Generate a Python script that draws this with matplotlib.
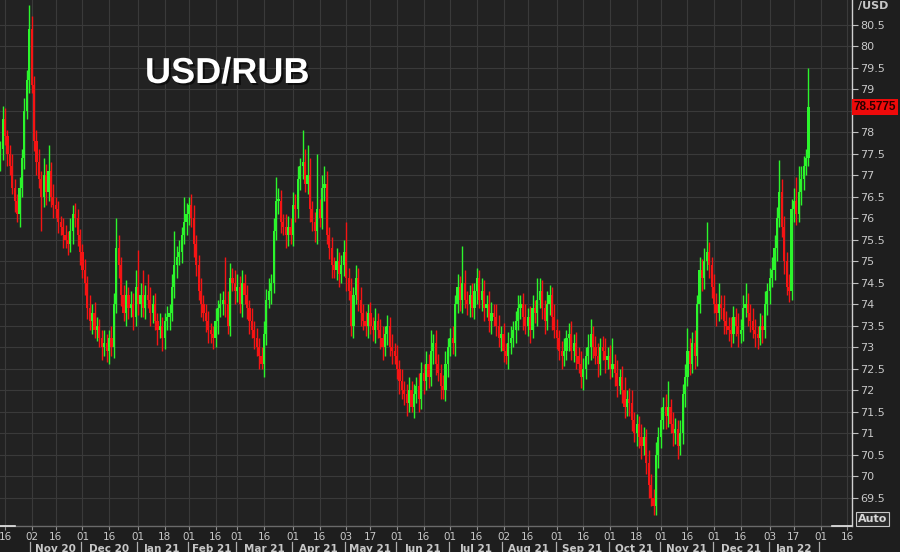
import numpy as np
import pandas as pd
import matplotlib
matplotlib.use("Agg")
import matplotlib.pyplot as plt
import matplotlib.transforms as mtransforms
import matplotlib.patheffects as pe
from matplotlib.lines import Line2D

# ---------------- data (daily USD/RUB candles, business days from 2020-10-14) ----------------
start_date = "2020-10-14"

closes = [
    77.6, 78.3, 77.9, 77.5, 77.2, 76.7, 76.4, 76.1, 76.7, 77.4, 78.5, 79.2, 80.4,
    79.1, 77.8, 77.3, 76.9, 76.5, 77.0, 76.6, 77.1, 76.5, 76.3, 76.2,
    75.9, 75.8, 75.6, 75.5, 75.4, 75.7, 76.1, 76.0, 75.6, 75.2,
    74.8, 74.5, 73.9, 73.6, 73.8, 73.4, 73.5, 73.2, 73.0, 73.1, 72.9,
    73.2, 73.0, 74.0, 75.3, 74.9, 74.2, 73.8, 74.2, 73.9, 74.0, 73.7, 74.4,
    74.0, 74.2, 73.9, 74.2, 74.1, 73.8, 74.0, 73.6, 73.4, 73.5, 73.2,
    73.6, 73.7, 73.8, 74.4, 74.9, 75.1, 75.2, 75.6, 75.9, 76.1,
    76.3,
    76.0, 75.4, 74.9, 74.3, 74.0, 73.8, 73.6, 73.4, 73.3, 73.2,
    73.6, 73.9, 74.0, 74.1, 74.0, 73.5, 74.6, 74.5, 74.3,
    74.4, 74.0, 74.5, 74.2, 73.9, 73.6, 73.4, 73.2, 73.0, 72.8, 72.6,
    73.3, 74.1, 74.3, 74.5, 75.7, 76.4, 76.4, 75.9, 75.8, 75.6, 75.8, 75.6,
    76.3, 76.2, 76.9, 77.2, 77.3, 76.8, 77.0, 76.2, 75.9, 75.7, 76.2,
    76.0, 76.7, 76.8, 75.6, 75.3, 74.9, 74.8, 75.0, 74.7, 74.9, 75.2,
    74.6, 74.3, 73.5, 74.2, 74.6, 74.1, 73.8, 73.6, 73.5, 73.8,
    73.5, 73.4, 73.6, 73.4, 73.2, 73.0, 73.3, 73.5, 73.0, 72.9, 72.8,
    72.5, 72.2, 72.0, 71.9, 71.7, 72.0, 71.6, 71.9, 72.1, 71.8, 72.4,
    72.2, 72.6, 72.3, 72.9, 73.1, 72.6, 72.4, 72.1, 72.0, 72.6, 73.0,
    73.2, 73.1, 74.0, 74.4, 74.1, 74.5, 74.1, 74.0, 74.2, 73.9, 74.3,
    74.6, 74.1, 74.3, 73.9, 74.0, 73.6, 73.8, 73.7, 73.5, 73.2, 73.3, 72.9,
    72.8, 73.1, 73.2, 73.4, 73.6, 73.9, 74.0, 73.7, 73.5, 73.7,
    73.4, 73.9, 73.8, 74.1, 74.3, 73.9, 73.6, 74.0, 74.2, 73.7, 73.4, 73.2,
    72.9, 72.8, 72.9, 73.2, 73.3, 72.9, 73.1, 72.8, 72.6, 72.3, 72.5,
    72.8, 73.0, 73.3, 73.0, 72.8, 72.6, 73.0, 72.9, 72.7, 72.8, 72.5,
    72.6, 72.4, 72.1, 72.3, 72.0, 71.6, 71.8, 71.7, 71.3, 71.0, 71.2,
    70.9, 70.7, 70.9, 70.3, 69.8, 69.5, 69.3, 70.5, 70.9, 71.3,
    71.6, 71.4, 71.6, 71.2, 71.0, 71.1, 70.7, 71.0, 71.9, 72.3, 72.9,
    72.6, 73.1, 72.8, 74.0, 74.8, 74.6, 75.0, 75.2, 74.9, 74.4, 74.0,
    73.8, 74.0, 73.9, 73.6, 73.5, 73.4, 73.3, 73.7, 73.5, 73.3, 73.4,
    73.9, 74.0, 73.8, 73.6, 73.4, 73.3, 73.2, 73.5, 73.4, 74.0, 74.3, 74.6, 74.8,
    75.3, 76.0, 76.6, 75.8, 75.0, 74.4, 74.3, 76.2, 76.4, 76.1, 76.6, 76.9, 77.2, 77.4, 78.5775,
]

opens = [
    77.3, 77.6, 78.3, 77.9, 77.5, 77.2, 76.7, 76.4, 76.1, 76.7, 77.4, 78.5, 79.2,
    80.4, 79.1, 77.8, 77.3, 76.9, 76.5, 77.0, 76.6, 77.1, 76.5, 76.3,
    76.2, 75.9, 75.8, 75.6, 75.5, 75.4, 75.7, 76.1, 76.0, 75.6,
    75.2, 74.8, 74.5, 73.9, 73.6, 73.8, 73.4, 73.5, 73.2, 73.0, 73.1,
    72.9, 73.2, 73.0, 74.0, 75.3, 74.9, 74.2, 73.8, 74.2, 73.9, 74.0, 73.7,
    74.4, 74.0, 74.2, 73.9, 74.2, 74.1, 73.8, 74.0, 73.6, 73.4, 73.5,
    73.2, 73.6, 73.7, 73.8, 74.4, 74.9, 75.1, 75.2, 75.6, 75.9,
    76.1,
    76.3, 76.0, 75.4, 74.9, 74.3, 74.0, 73.8, 73.6, 73.4, 73.3,
    73.2, 73.6, 73.9, 74.0, 74.1, 74.0, 73.5, 74.6, 74.5,
    74.3, 74.4, 74.0, 74.5, 74.2, 73.9, 73.6, 73.4, 73.2, 73.0, 72.8,
    72.6, 73.3, 74.1, 74.3, 74.5, 75.7, 76.4, 76.4, 75.9, 75.8, 75.6, 75.8,
    75.6, 76.3, 76.2, 76.9, 77.2, 77.3, 76.8, 77.0, 76.2, 75.9, 75.7,
    76.2, 76.0, 76.7, 76.8, 75.6, 75.3, 74.9, 74.8, 75.0, 74.7, 74.9,
    75.2, 74.6, 74.3, 73.5, 74.2, 74.6, 74.1, 73.8, 73.6, 73.5,
    73.8, 73.5, 73.4, 73.6, 73.4, 73.2, 73.0, 73.3, 73.5, 73.0, 72.9,
    72.8, 72.5, 72.2, 72.0, 71.9, 71.7, 72.0, 71.6, 71.9, 72.1, 71.8,
    72.4, 72.2, 72.6, 72.3, 72.9, 73.1, 72.6, 72.4, 72.1, 72.0, 72.6,
    73.0, 73.2, 73.1, 74.0, 74.4, 74.1, 74.5, 74.1, 74.0, 74.2, 73.9,
    74.3, 74.6, 74.1, 74.3, 73.9, 74.0, 73.6, 73.8, 73.7, 73.5, 73.2, 73.3,
    72.9, 72.8, 73.1, 73.2, 73.4, 73.6, 73.9, 74.0, 73.7, 73.5,
    73.7, 73.4, 73.9, 73.8, 74.1, 74.3, 73.9, 73.6, 74.0, 74.2, 73.7, 73.4,
    73.2, 72.9, 72.8, 72.9, 73.2, 73.3, 72.9, 73.1, 72.8, 72.6, 72.3,
    72.5, 72.8, 73.0, 73.3, 73.0, 72.8, 72.6, 73.0, 72.9, 72.7, 72.8,
    72.5, 72.6, 72.4, 72.1, 72.3, 72.0, 71.6, 71.8, 71.7, 71.3, 71.0,
    71.2, 70.9, 70.7, 70.9, 70.3, 69.8, 69.5, 69.3, 70.5, 70.9,
    71.3, 71.6, 71.4, 71.6, 71.2, 71.0, 71.1, 70.7, 71.0, 71.9, 72.3,
    72.9, 72.6, 73.1, 72.8, 74.0, 74.8, 74.6, 75.0, 75.2, 74.9, 74.4,
    74.0, 73.8, 74.0, 73.9, 73.6, 73.5, 73.4, 73.3, 73.7, 73.5, 73.3,
    73.4, 73.9, 74.0, 73.8, 73.6, 73.4, 73.3, 73.2, 73.5, 73.4, 74.0, 74.3, 74.6,
    74.8, 75.3, 76.0, 76.6, 75.8, 75.0, 74.4, 74.3, 76.2, 76.4, 76.1, 76.6, 76.9, 77.2, 77.4,
]

# wick length above the body top / below the body bottom (RUB)
upper_wick = [
    0.2, 0.3, 0.25, 0.15, 0.2, 0.3, 0.2, 0.15, 0.25, 0.2, 0.3, 0.25, 0.55,
    0.3, 0.2, 0.25, 0.3, 0.2, 0.4, 0.25, 0.6, 0.2, 0.3, 0.2,
    0.2, 0.15, 0.2, 0.25, 0.2, 0.3, 0.2, 0.25, 0.2, 0.15,
    0.2, 0.25, 0.15, 0.3, 0.2, 0.25, 0.2, 0.15, 0.2, 0.3, 0.2,
    0.2, 0.3, 0.25, 0.7, 0.3, 0.2, 0.25, 0.35, 0.2, 0.3, 0.25, 0.4,
    0.85, 0.3, 0.6, 0.25, 0.5, 0.3, 0.2, 0.25, 0.2, 0.3, 0.2,
    0.2, 0.25, 0.2, 0.3, 0.8, 0.25, 0.3, 0.2, 0.6, 0.25,
    0.2,
    0.25, 0.3, 0.2, 0.25, 0.3, 0.2, 0.2, 0.25, 0.15, 0.2,
    0.3, 0.2, 0.25, 0.2, 1.0, 0.3, 0.35, 0.25, 0.3,
    0.3, 0.25, 0.3, 0.2, 0.25, 0.2, 0.3, 0.2, 0.25, 0.2, 0.2,
    0.3, 0.25, 0.3, 0.2, 0.3, 0.55, 0.3, 0.25, 0.2, 0.3, 0.25, 0.2,
    0.3, 0.25, 0.3, 0.2, 0.75, 0.3, 0.7, 0.4, 0.2, 0.25, 1.3,
    0.25, 0.3, 0.4, 0.3, 0.2, 0.25, 0.2, 0.3, 0.2, 0.25, 0.3,
    0.7, 0.25, 0.3, 0.2, 0.3, 0.25, 0.3, 0.2, 0.25, 0.2,
    0.25, 0.2, 0.3, 0.2, 0.25, 0.3, 0.2, 0.25, 0.2, 0.3, 0.2,
    0.25, 0.2, 0.3, 0.2, 0.25, 0.3, 0.2, 0.25, 0.2, 0.3, 0.25,
    0.2, 0.3, 0.25, 0.5, 0.2, 0.3, 0.25, 0.2, 0.25, 0.3, 0.2,
    0.25, 0.3, 0.2, 0.3, 0.25, 0.85, 0.3, 0.2, 0.25, 0.3, 0.2,
    0.25, 0.2, 0.3, 0.25, 0.2, 0.3, 0.25, 0.2, 0.3, 0.25, 0.2, 0.25,
    0.2, 0.25, 0.3, 0.2, 0.25, 0.3, 0.2, 0.25, 0.3, 0.2,
    0.25, 0.3, 0.2, 0.5, 0.3, 0.25, 0.2, 0.3, 0.25, 0.2, 0.3, 0.25,
    0.2, 0.25, 0.3, 0.2, 0.25, 0.3, 0.2, 0.25, 0.2, 0.3, 0.25,
    0.2, 0.3, 0.35, 0.2, 0.25, 0.3, 0.2, 0.25, 0.3, 0.2, 0.25,
    0.6, 0.25, 0.3, 0.2, 0.25, 0.3, 0.2, 0.25, 0.3, 0.2, 0.25,
    0.2, 0.3, 0.25, 0.2, 0.3, 0.25, 0.2, 0.3, 0.25, 0.3,
    0.25, 0.3, 0.6, 0.2, 0.3, 0.25, 0.2, 0.3, 0.25, 0.3, 0.55,
    0.3, 0.25, 0.3, 0.2, 0.3, 0.25, 0.3, 0.7, 0.25, 0.2, 0.3,
    0.25, 0.5, 0.2, 0.3, 0.25, 0.2, 0.3, 0.25, 0.2, 0.3, 0.25,
    0.3, 0.5, 0.25, 0.2, 0.3, 0.25, 0.2, 0.3, 0.25, 0.3, 0.2, 0.25, 0.3,
    0.3, 0.25, 0.75, 0.3, 0.25, 0.2, 0.3, 0.25, 0.3, 0.55, 0.6, 0.3, 0.25, 0.2, 0.92,
]

lower_wick = [
    0.2, 0.25, 0.2, 0.3, 0.2, 0.15, 0.25, 0.2, 0.3, 0.2, 0.25, 0.2, 0.3,
    0.2, 0.25, 0.3, 0.2, 0.8, 0.25, 0.3, 0.2, 0.25, 0.3, 0.2,
    0.25, 0.2, 0.3, 0.2, 0.25, 0.2, 0.3, 0.2, 0.25, 0.3,
    0.2, 0.3, 0.25, 0.2, 0.3, 0.2, 0.25, 0.2, 0.3, 0.2, 0.25,
    0.3, 0.2, 0.25, 0.2, 0.3, 0.25, 0.2, 0.3, 0.25, 0.2, 0.3, 0.2,
    0.25, 0.3, 0.2, 0.25, 0.2, 0.3, 0.25, 0.2, 0.35, 0.2, 0.3,
    0.25, 0.2, 0.3, 0.2, 0.25, 0.3, 0.2, 0.25, 0.2, 0.3,
    0.25,
    0.2, 0.3, 0.25, 0.2, 0.3, 0.2, 0.25, 0.3, 0.2, 0.25,
    0.2, 0.3, 0.2, 0.25, 0.3, 0.2, 0.25, 0.2, 0.3,
    0.25, 0.2, 0.3, 0.2, 0.25, 0.3, 0.2, 0.25, 0.2, 0.3, 0.1,
    0.3, 0.25, 0.2, 0.3, 0.25, 0.2, 0.3, 0.25, 0.2, 0.3, 0.25, 0.2,
    0.25, 0.3, 0.2, 0.25, 0.3, 0.2, 0.25, 0.3, 0.2, 0.25, 0.3,
    0.2, 0.25, 0.3, 0.2, 0.25, 0.3, 0.2, 0.25, 0.3, 0.2, 0.25,
    0.3, 0.2, 0.25, 0.3, 0.2, 0.25, 0.3, 0.2, 0.25, 0.3,
    0.2, 0.25, 0.3, 0.2, 0.25, 0.3, 0.2, 0.25, 0.2, 0.3, 0.2,
    0.25, 0.3, 0.2, 0.25, 0.3, 0.2, 0.1, 0.25, 0.2, 0.3, 0.25,
    0.3, 0.2, 0.25, 0.2, 0.3, 0.25, 0.2, 0.3, 0.2, 0.25, 0.3,
    0.2, 0.25, 0.3, 0.2, 0.25, 0.3, 0.2, 0.25, 0.3, 0.2, 0.25,
    0.3, 0.2, 0.25, 0.3, 0.2, 0.25, 0.3, 0.2, 0.25, 0.2, 0.3, 0.25,
    0.2, 0.3, 0.25, 0.2, 0.3, 0.2, 0.25, 0.3, 0.2, 0.25,
    0.3, 0.2, 0.25, 0.3, 0.2, 0.25, 0.3, 0.2, 0.25, 0.3, 0.2, 0.25,
    0.2, 0.3, 0.25, 0.2, 0.3, 0.2, 0.25, 0.3, 0.2, 0.25, 0.3,
    0.25, 0.2, 0.3, 0.25, 0.2, 0.3, 0.25, 0.2, 0.3, 0.2, 0.25,
    0.2, 0.3, 0.25, 0.2, 0.3, 0.25, 0.2, 0.3, 0.25, 0.2, 0.3,
    0.25, 0.3, 0.2, 0.25, 0.3, 0.2, 0.2, 0.2, 0.3, 0.25,
    0.2, 0.3, 0.25, 0.2, 0.3, 0.25, 0.3, 0.2, 0.25, 0.3, 0.2,
    0.25, 0.2, 0.3, 0.25, 0.2, 0.3, 0.25, 0.2, 0.3, 0.25, 0.2,
    0.3, 0.2, 0.25, 0.3, 0.2, 0.25, 0.3, 0.2, 0.25, 0.3, 0.2,
    0.25, 0.2, 0.3, 0.25, 0.2, 0.3, 0.25, 0.15, 0.3, 0.2, 0.25, 0.3, 0.2,
    0.25, 0.3, 0.2, 0.25, 0.3, 0.2, 0.25, 0.2, 0.3, 0.25, 0.2, 0.3, 0.25, 0.2, 0.2,
]

title_text = "USD/RUB"
last_price_text = "78.5775"
axis_unit_text = "/USD"

tick_dates = ["2020-10-16", "2020-11-02", "2020-11-16", "2020-12-01", "2020-12-16",
              "2021-01-01", "2021-01-18", "2021-02-01", "2021-02-16", "2021-03-01",
              "2021-03-16", "2021-04-01", "2021-04-16", "2021-05-03", "2021-05-17",
              "2021-06-01", "2021-06-16", "2021-07-01", "2021-07-16", "2021-08-02",
              "2021-08-16", "2021-09-01", "2021-09-16", "2021-10-01", "2021-10-18",
              "2021-11-01", "2021-11-16", "2021-12-01", "2021-12-16", "2022-01-03",
              "2022-01-17", "2022-02-01", "2022-02-16"]
tick_labels = ["16", "02", "16", "01", "16", "01", "18", "01", "16", "01", "16",
               "01", "16", "03", "17", "01", "16", "01", "16", "02", "16", "01",
               "16", "01", "18", "01", "16", "01", "16", "03", "17", "01", "16"]

month_starts = ["2020-11-01", "2020-12-01", "2021-01-01", "2021-02-01", "2021-03-01",
                "2021-04-01", "2021-05-01", "2021-06-01", "2021-07-01", "2021-08-01",
                "2021-09-01", "2021-10-01", "2021-11-01", "2021-12-01", "2022-01-01",
                "2022-02-01"]
month_labels = ["Nov 20", "Dec 20", "Jan 21", "Feb 21", "Mar 21", "Apr 21", "May 21",
                "Jun 21", "Jul 21", "Aug 21", "Sep 21", "Oct 21", "Nov 21", "Dec 21",
                "Jan 22"]

y_ticks = [69.5, 70, 70.5, 71, 71.5, 72, 72.5, 73, 73.5, 74, 74.5, 75, 75.5,
           76, 76.5, 77, 77.5, 78, 78.5, 79, 79.5, 80, 80.5]

# ---------------- style ----------------
BG = "#1e1e1e"
PLOT_BG = "#222222"
GRID = "#3a3a3a"
TXT = "#c8c8c8"
GREEN = "#2cf52c"
RED = "#f51414"

W, H = 900, 552
fig = plt.figure(figsize=(W / 100, H / 100), dpi=100, facecolor=BG)
ax = fig.add_axes([0, 26 / H, 852 / W, 526 / H])
ax.set_facecolor(PLOT_BG)

cal = pd.bdate_range(start_date, "2022-03-01")

n = min(len(closes), len(opens), len(upper_wick), len(lower_wick))
o = np.array(opens[:n], dtype=float)
c = np.array(closes[:n], dtype=float)
hi = np.maximum(o, c) + np.array(upper_wick[:n])
lo = np.minimum(o, c) - np.array(lower_wick[:n])
pos = np.arange(n)
cols = np.where(c >= o, GREEN, RED)

ax.vlines(pos, lo, hi, colors=cols, linewidth=1.0, zorder=3)
ax.bar(pos, np.maximum(np.abs(c - o), 0.05), bottom=np.minimum(o, c), width=0.9,
       color=cols, linewidth=0, zorder=4)

ax.set_xlim(-0.07, 352.0)
ax.set_ylim(68.84, 81.07)

# grid + ticks
tpos = [int(cal.get_indexer([pd.Timestamp(d)])[0]) for d in tick_dates]
ax.set_xticks(tpos)
ax.set_xticklabels(tick_labels)
ax.set_yticks(y_ticks)
last_val = c[-1]
# the label right under the last-price tag is hidden by the tag, as in the source
ylabels = ["" if abs(v - last_val) < 0.2 else f"{v:g}" for v in y_ticks]
ax.set_yticklabels(ylabels)
for lab, v in zip(ax.get_yticklabels(), y_ticks):
    if float(v) % 5 == 0:
        lab.set_fontweight("bold")
        lab.set_color("#e0e0e0")
ax.yaxis.tick_right()
ax.grid(True, color=GRID, linewidth=0.8)
ax.set_axisbelow(True)
ax.tick_params(axis="y", which="both", right=True, left=False, direction="out",
               length=4, width=0.8, color="#c0c0c0", labelcolor=TXT, labelsize=8, pad=2)
ax.tick_params(axis="x", direction="out", length=3, width=0.8, color="#909090",
               labelcolor=TXT, labelsize=7.5, pad=1.5)

for s in ["top", "left"]:
    ax.spines[s].set_visible(False)
ax.spines["right"].set_color("#d0d0d0")
ax.spines["right"].set_linewidth(1.0)
ax.spines["bottom"].set_color("#6a6a6a")
ax.spines["bottom"].set_linewidth(1.0)

# month row
blend = mtransforms.blended_transform_factory(ax.transData, ax.transAxes)
mpos = [int(cal.searchsorted(pd.Timestamp(m))) - 0.5 for m in month_starts]
for x in mpos:
    ax.plot([x, x], [-0.031, -0.052], transform=blend, color="#b0b0b0", lw=0.9,
            clip_on=False)
for i, lab in enumerate(month_labels):
    xm = (mpos[i] + mpos[i + 1]) / 2
    ax.text(xm, -0.043, lab, transform=blend, ha="center", va="center",
            fontsize=7.5, fontweight="bold", color=TXT, clip_on=False)

# title
fig.text(145 / W, 1 - 83 / H, title_text, fontsize=26, fontweight="bold",
         family="Liberation Sans", color="white", va="baseline", ha="left",
         path_effects=[pe.withSimplePatchShadow(offset=(1.5, -1.5),
                                                shadow_rgbFace="#000000", alpha=0.6)])

# last-price tag
ytag = mtransforms.blended_transform_factory(ax.transAxes, ax.transData)
ax.text(1.002, last_val, last_price_text, transform=ytag, ha="left", va="center",
        fontsize=8.5, fontweight="bold", family="Liberation Sans", color="#2a0000",
        clip_on=False, zorder=10,
        bbox=dict(boxstyle="square,pad=0.15", fc="#ee0a0a", ec="none"))

# axis unit at top right
fig.text(858 / W, 0.999, axis_unit_text, ha="left", va="top", fontsize=8,
         fontweight="bold", color=TXT)

# Auto button
fig.text(858 / W, 1 - 519 / H, "Auto", ha="left", va="center", fontsize=8,
         fontweight="bold", color="#d8d8d8",
         bbox=dict(boxstyle="square,pad=0.15", fc="#2a2a2a", ec="#c8c8c8", lw=0.8))

# scroll indicator segments on bottom line
yb = 26 / H
fig.add_artist(Line2D([0, 15 / W], [yb, yb], color="#e8e8e8", lw=1.2))
fig.add_artist(Line2D([832 / W, 852 / W], [yb, yb], color="#e8e8e8", lw=1.2))

fig.savefig("out.png", dpi=100, facecolor=BG)
